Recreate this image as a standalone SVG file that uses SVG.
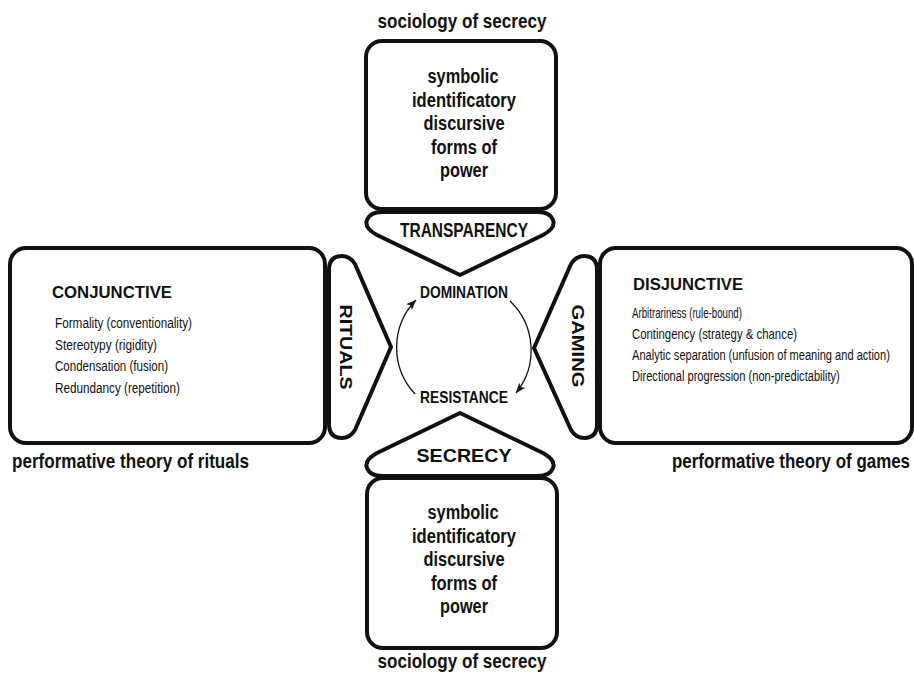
<svg xmlns="http://www.w3.org/2000/svg" width="914" height="674" viewBox="0 0 914 674">
<style>
  .box { fill: #fff; stroke: #111; stroke-width: 4; }
  .tab { fill: #fff; stroke: #111; stroke-width: 4; stroke-linejoin: round; }
  .t { font-family: "Liberation Sans", Arial, sans-serif; fill: #111; }
  .b { font-weight: bold; }
  .mid { text-anchor: middle; }
  .bx { font-size: 20px; font-weight: bold; text-anchor: middle; }
  .li { font-size: 15.5px; }
  .ri { font-size: 15px; }
  .arc { fill: none; stroke: #111; stroke-width: 1.3; }
</style>
<defs>
  <marker id="ah" markerUnits="userSpaceOnUse" markerWidth="12" markerHeight="10" refX="10" refY="4" orient="auto">
    <path d="M0,0 L10,4 L0,8 L2.5,4 Z" fill="#111"/>
  </marker>
</defs>
<rect width="914" height="674" fill="#fff"/>

<g id="connectors">
  <path class="arc" d="M 415 394 A 68 68 0 0 1 416 300" marker-end="url(#ah)"/>
  <path class="arc" d="M 510 301 A 68 68 0 0 1 516 393" marker-end="url(#ah)"/>
</g>

<g id="top-box">
  <text class="t b mid" x="462" y="28" font-size="20.5" textLength="169" lengthAdjust="spacingAndGlyphs">sociology of secrecy</text>
  <rect class="box" x="366" y="41" width="190" height="168" rx="16"/>
  <text class="t bx" x="463" y="83" textLength="71" lengthAdjust="spacingAndGlyphs">symbolic</text>
  <text class="t bx" x="464" y="106.5" textLength="104" lengthAdjust="spacingAndGlyphs">identificatory</text>
  <text class="t bx" x="464" y="130" textLength="81" lengthAdjust="spacingAndGlyphs">discursive</text>
  <text class="t bx" x="464" y="153.5" textLength="66" lengthAdjust="spacingAndGlyphs">forms of</text>
  <text class="t bx" x="464" y="177" textLength="48" lengthAdjust="spacingAndGlyphs">power</text>
</g>

<g id="transparency">
  <path class="tab" d="M 382 212 H 538 Q 550 212 553 220 Q 556 228 543 235 L 460 275 L 377 235 Q 364 228 367 220 Q 370 212 382 212 Z"/>
  <text class="t b mid" x="464" y="237" font-size="19.5" textLength="128" lengthAdjust="spacingAndGlyphs">TRANSPARENCY</text>
</g>

<g id="left-box">
  <rect class="box" x="10" y="248" width="315" height="195" rx="16"/>
  <text class="t b" x="52" y="298" font-size="17" textLength="120" lengthAdjust="spacingAndGlyphs">CONJUNCTIVE</text>
  <text class="t li" x="55" y="328" textLength="137" lengthAdjust="spacingAndGlyphs">Formality (conventionality)</text>
  <text class="t li" x="55" y="349.5" textLength="102" lengthAdjust="spacingAndGlyphs">Stereotypy (rigidity)</text>
  <text class="t li" x="55" y="371" textLength="113" lengthAdjust="spacingAndGlyphs">Condensation (fusion)</text>
  <text class="t li" x="55" y="392.5" textLength="125" lengthAdjust="spacingAndGlyphs">Redundancy (repetition)</text>
  <text class="t b" x="12" y="468" font-size="20.5" textLength="237" lengthAdjust="spacingAndGlyphs">performative theory of rituals</text>
</g>

<g id="rituals">
  <path class="tab" d="M 329 270 Q 329 256 342 256 Q 350 256 355 264 L 391 347 L 355 430 Q 350 438 342 438 Q 329 438 329 424 Z"/>
  <text class="t b mid" transform="translate(340,347) rotate(90)" font-size="16.5" textLength="85" lengthAdjust="spacingAndGlyphs">RITUALS</text>
</g>

<g id="right-box">
  <rect class="box" x="600" y="248" width="312" height="195" rx="16"/>
  <text class="t b" x="633" y="290" font-size="17" textLength="110" lengthAdjust="spacingAndGlyphs">DISJUNCTIVE</text>
  <text class="t ri" x="632" y="318" textLength="110" lengthAdjust="spacingAndGlyphs">Arbitrariness (rule-bound)</text>
  <text class="t ri" x="632" y="339" textLength="165" lengthAdjust="spacingAndGlyphs">Contingency (strategy &amp; chance)</text>
  <text class="t ri" transform="translate(632,360) scale(0.739,1)" x="0" y="0">Analytic separation (unfusion of meaning and action)</text>
  <text class="t ri" transform="translate(632,380.5) scale(0.74,1)" x="0" y="0">Directional progression (non-predictability)</text>
  <text class="t b" transform="translate(672,468) scale(0.826,1)" x="0" y="0" font-size="20.5">performative theory of games</text>
</g>

<g id="gaming">
  <path class="tab" d="M 597 270 Q 597 256 584 256 Q 576 256 571 264 L 534 348 L 571 430 Q 576 438 584 438 Q 597 438 597 424 Z"/>
  <text class="t b mid" transform="translate(572,346) rotate(90)" font-size="16.5" textLength="83" lengthAdjust="spacingAndGlyphs">GAMING</text>
</g>

<g id="center">
  <text class="t b mid" x="464" y="298" font-size="16.5" textLength="88" lengthAdjust="spacingAndGlyphs">DOMINATION</text>
  <text class="t b mid" x="464" y="403" font-size="16.5" textLength="88" lengthAdjust="spacingAndGlyphs">RESISTANCE</text>
</g>

<g id="secrecy">
  <path class="tab" d="M 460 413 L 543 453 Q 556 460 553 468 Q 550 476 538 476 H 382 Q 370 476 367 468 Q 364 460 377 453 Z"/>
  <text class="t b mid" x="464" y="462" font-size="19" textLength="95" lengthAdjust="spacingAndGlyphs">SECRECY</text>
</g>

<g id="bottom-box">
  <rect class="box" x="367" y="478" width="190" height="170" rx="16"/>
  <text class="t bx" x="463" y="519" textLength="71" lengthAdjust="spacingAndGlyphs">symbolic</text>
  <text class="t bx" x="464" y="542.5" textLength="104" lengthAdjust="spacingAndGlyphs">identificatory</text>
  <text class="t bx" x="464" y="566" textLength="81" lengthAdjust="spacingAndGlyphs">discursive</text>
  <text class="t bx" x="464" y="589.5" textLength="66" lengthAdjust="spacingAndGlyphs">forms of</text>
  <text class="t bx" x="464" y="613" textLength="48" lengthAdjust="spacingAndGlyphs">power</text>
  <text class="t b mid" x="462" y="668" font-size="20.5" textLength="169" lengthAdjust="spacingAndGlyphs">sociology of secrecy</text>
</g>
</svg>
